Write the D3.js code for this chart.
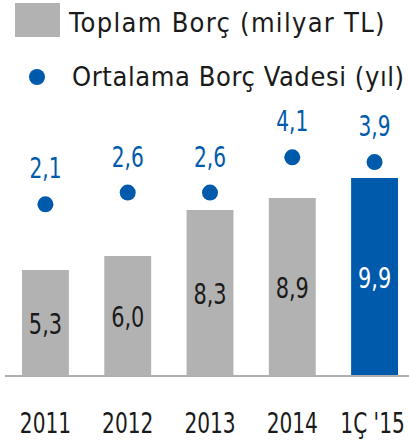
<!DOCTYPE html>
<html lang="tr">
<head>
<meta charset="utf-8">
<title>Borç</title>
<script src="https://d3js.org/d3.v7.min.js"></script>
<style>
  body { margin: 0; background: #fff; }
  text { font-family: "DejaVu Sans Condensed", "Liberation Sans", sans-serif; }
</style>
</head>
<body>
<script>
  // data
  var years = ["2011", "2012", "2013", "2014", "1Ç '15"];
  var totalDebt = [5.3, 6.0, 8.3, 8.9, 9.9];      // milyar TL
  var avgMaturity = [2.1, 2.6, 2.6, 4.1, 3.9];    // yıl
  var legendLabels = ["Toplam Borç (milyar TL)", "Ortalama Borç Vadesi (yıl)"];

  var w = 409, h = 444;
  var gray = "#b2b2b2", blue = "#005aab", ink = "#1a1a1a";
  var squeeze = 0.8;   // narrow the digits a bit, the original font is condensed

  var fmt = function(v) { return d3.format(".1f")(v).replace(".", ","); };

  var x = d3.scaleBand().domain(years).range([4.3, 415.7]).paddingInner(0.43).paddingOuter(0.215);
  var y = d3.scaleLinear().domain([0, 10]).range([376, 176]);
  var yDot = d3.scaleLinear().domain([0, 5]).range([253.7, 136.2]);
  var cx = function(i) { return x(years[i]) + x.bandwidth() / 2; };
  var place = function(px, py) { return "translate(" + px + "," + py + ") scale(" + squeeze + ",1)"; };

  var svg = d3.select("body").append("svg").attr("width", w).attr("height", h);

  // bars
  svg.selectAll("rect.bar").data(totalDebt).enter().append("rect")
    .attr("class", "bar")
    .attr("x", function(d, i) { return x(years[i]); })
    .attr("y", function(d) { return y(d); })
    .attr("width", x.bandwidth())
    .attr("height", function(d) { return y(0) - y(d); })
    .attr("fill", function(d, i) { return i == years.length - 1 ? blue : gray; });

  // bar values
  svg.selectAll("text.val").data(totalDebt).enter().append("text")
    .attr("class", "val")
    .attr("transform", function(d, i) { return place(cx(i), (y(d) + y(0)) / 2 + 10.5); })
    .attr("text-anchor", "middle")
    .attr("font-size", 29)
    .attr("fill", function(d, i) { return i == years.length - 1 ? "#fff" : ink; })
    .text(fmt);

  // axis line
  svg.append("line").attr("x1", 5).attr("x2", w).attr("y1", y(0)).attr("y2", y(0))
    .attr("stroke", "#b0b0b0").attr("stroke-width", 2);

  // year labels
  svg.selectAll("text.year").data(years).enter().append("text")
    .attr("class", "year")
    .attr("transform", function(d, i) { return place(i == years.length - 1 ? cx(i) - 2 : cx(i), 433); })
    .attr("text-anchor", "middle")
    .attr("font-size", 28)
    .attr("fill", ink)
    .text(function(d) { return d; });

  // maturity dots
  svg.selectAll("circle.dot").data(avgMaturity).enter().append("circle")
    .attr("class", "dot")
    .attr("cx", function(d, i) { return cx(i); })
    .attr("cy", function(d) { return yDot(d); })
    .attr("r", 8)
    .attr("fill", blue);

  svg.selectAll("text.dotval").data(avgMaturity).enter().append("text")
    .attr("class", "dotval")
    .attr("transform", function(d, i) { return place(cx(i), yDot(d) - 26); })
    .attr("text-anchor", "middle")
    .attr("font-size", 28)
    .attr("fill", blue)
    .text(fmt);

  // legend
  svg.append("rect").attr("x", 15).attr("y", 3).attr("width", 45).attr("height", 34).attr("fill", gray);
  svg.append("text").attr("x", 69).attr("y", 31.5).attr("font-size", 27).attr("letter-spacing", 1.3)
    .attr("fill", ink).text(legendLabels[0]);
  svg.append("circle").attr("cx", 37).attr("cy", 77).attr("r", 8).attr("fill", blue);
  svg.append("text").attr("x", 72).attr("y", 86).attr("font-size", 27).attr("letter-spacing", 0.6)
    .attr("fill", ink).text(legendLabels[1]);
</script>
</body>
</html>
